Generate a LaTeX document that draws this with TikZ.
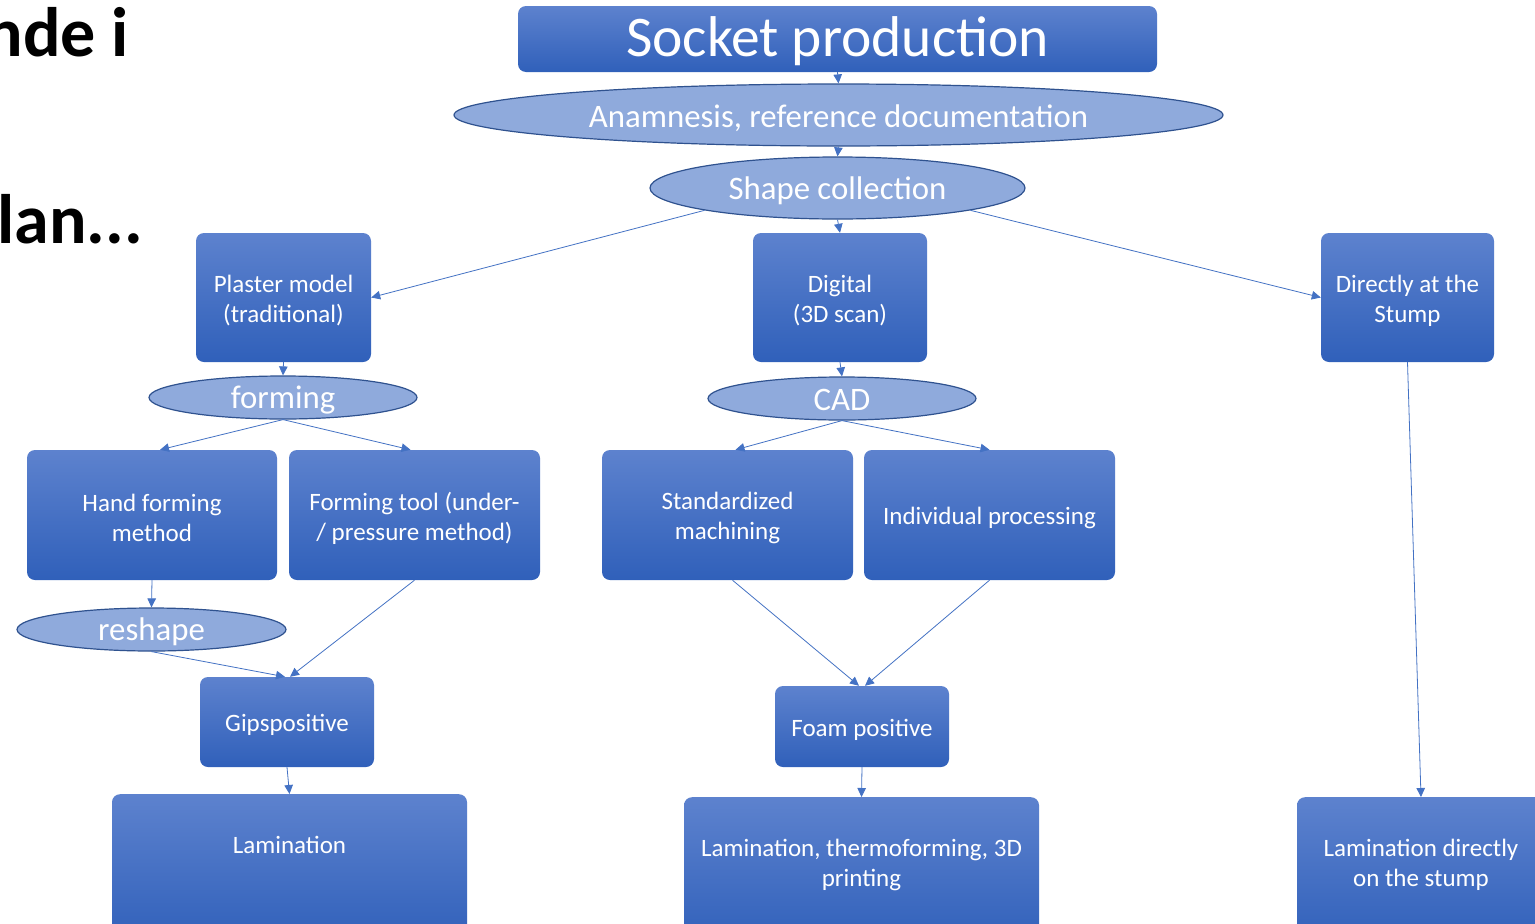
\documentclass[tikz,border=0pt]{standalone}
\usepackage{fontspec}
\setmainfont{Carlito}
\usetikzlibrary{shapes.geometric,arrows.meta,calc}
\definecolor{boxtop}{HTML}{5D82CE}
\definecolor{boxbot}{HTML}{3060BA}
\definecolor{ovalfill}{HTML}{8FAADC}
\definecolor{ovaledge}{HTML}{2F528F}
\definecolor{linecol}{HTML}{4472C4}
\begin{document}
\begin{tikzpicture}[x=1pt,y=-1pt,
  box/.style={rectangle, rounded corners=8pt, top color=boxtop, bottom color=boxbot, draw=none, inner sep=0pt},
  boxtext/.style={text=white, align=center, inner sep=0pt, font=\fontsize{25}{30}\selectfont},
  oval/.style={ellipse, draw=ovaledge, line width=1.2pt, fill=ovalfill, inner sep=0pt},
  ovaltext/.style={text=white, align=center, inner sep=0pt, font=\fontsize{32.8}{38}\selectfont},
  conn/.style={draw=linecol, line width=0.8pt, -{Triangle[length=9pt,width=8.5pt]}},
  bigtext/.style={anchor=base east, inner sep=0pt, font=\bfseries\fontsize{70}{74}\selectfont}]
\useasboundingbox (0,0) rectangle (1535,924);
\clip (0,0) rectangle (1535,924);
\fill[white] (0,0) rectangle (1535,924);

% left texts
\node[bigtext] (t1) at (129,56) {nde i};
\node[bigtext] (t2) at (143,243) {lan...};

% boxes
\node[box, minimum width=639, minimum height=66] (sp) at (837.5,39) {};
\node[box, minimum width=175, minimum height=129] (pm) at (283.5,297.5) {};
\node[box, minimum width=174, minimum height=129] (dg) at (840,297.5) {};
\node[box, minimum width=173, minimum height=129] (ds) at (1407.5,297.5) {};
\node[box, minimum width=250, minimum height=130] (hf) at (152,515) {};
\node[box, minimum width=251, minimum height=130] (ft) at (414.5,515) {};
\node[box, minimum width=251, minimum height=130] (std) at (727.5,515) {};
\node[box, minimum width=251, minimum height=130] (ind) at (989.5,515) {};
\node[box, minimum width=174, minimum height=90] (gips) at (287,722) {};
\node[box, minimum width=174, minimum height=81] (foam) at (862,726.5) {};
\node[box, minimum width=355, minimum height=150, anchor=north] (lam1) at (289.5,794) {};
\node[box, minimum width=355, minimum height=150, anchor=north] (lam2) at (861.5,797) {};
\node[box, minimum width=248, minimum height=150, anchor=north] (lam3) at (1421,797) {};

% box texts
\node[boxtext, font=\fontsize{57.5}{62}\selectfont] (spt) at ([yshift=-2.5pt]sp.center) {Socket production};
\node[boxtext] (pmt) at ([yshift=-3pt]pm.center) {Plaster model\\(traditional)};
\node[boxtext] (dgt) at ([yshift=-3pt]dg.center) {Digital\\(3D scan)};
\node[boxtext] (dst) at ([yshift=-3pt]ds.center) {Directly at the\\Stump};
\node[boxtext] (hft) at ([yshift=-3pt]hf.center) {Hand forming\\method};
\node[boxtext] (ftt) at ([yshift=-3pt]ft.center) {Forming tool (under-\\/ pressure method)};
\node[boxtext] (stdt) at ([yshift=-3pt]std.center) {Standardized\\machining};
\node[boxtext] (indt) at ([yshift=-3pt]ind.center) {Individual processing};
\node[boxtext] (gipst) at ([yshift=-3pt]gips.center) {Gipspositive};
\node[boxtext] (foamt) at ([yshift=-3pt]foam.center) {Foam positive};
\node[boxtext] (lam1t) at (289.5,845) {Lamination};
\node[boxtext] (lam2t) at (861.5,865) {Lamination, thermoforming, 3D\\printing};
\node[boxtext] (lam3t) at (1421,865) {Lamination directly\\on the stump};

% ovals
\node[oval, minimum width=769, minimum height=62] (an) at (838.5,115) {};
\node[oval, minimum width=375, minimum height=62] (sc) at (837.5,188) {};
\node[oval, minimum width=268, minimum height=43] (fo) at (283,397.5) {};
\node[oval, minimum width=268, minimum height=43] (cad) at (842,398.5) {};
\node[oval, minimum width=269, minimum height=43] (rs) at (151.5,629.5) {};
\node[ovaltext] (ant) at ([yshift=-3pt]an.center) {Anamnesis, reference documentation};
\node[ovaltext] (sct) at ([yshift=-3pt]sc.center) {Shape collection};
\node[ovaltext] (fot) at ([yshift=-2.5pt]fo.center) {forming};
\node[ovaltext] (cadt) at ([yshift=-1.5pt]cad.center) {CAD};
\node[ovaltext] (rst) at ([yshift=-2.5pt]rs.center) {reshape};

% connectors
\draw[conn] (sp.south) -- (an.north);
\draw[conn] (an.south) -- (sc.north);
\draw[conn] (sc.south) -- (dg.north);
\draw[conn] (sc.south west) -- (pm.east);
\draw[conn] (sc.south east) -- (ds.west);
\draw[conn] (pm.south) -- (fo.north);
\draw[conn] (dg.south) -- (cad.north);
\draw[conn] (fo.south) -- ([xshift=8pt]hf.north);
\draw[conn] (fo.south) -- ([xshift=-4pt]ft.north);
\draw[conn] (cad.south) -- ([xshift=8pt]std.north);
\draw[conn] (cad.south) -- (ind.north);
\draw[conn] (hf.south) -- (rs.north);
\draw[conn] (rs.south) -- ([xshift=-2pt]gips.north);
\draw[conn] (ft.south) -- ([xshift=3pt]gips.north);
\draw[conn] ([xshift=5pt]std.south) -- ([xshift=-3pt]foam.north);
\draw[conn] (ind.south) -- ([xshift=3pt]foam.north);
\draw[conn] (gips.south) -- (lam1.north);
\draw[conn] (foam.south) -- (lam2.north);
\draw[conn] (ds.south) -- (lam3.north);
\end{tikzpicture}
\end{document}
